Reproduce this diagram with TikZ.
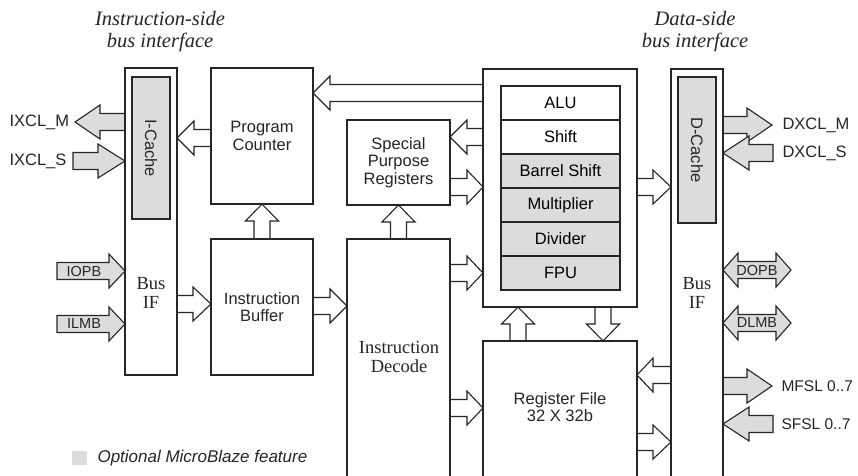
\documentclass[tikz,border=0pt]{standalone}
\usepackage{fontspec}
\setmainfont{Liberation Serif}
\setsansfont{Liberation Sans}
\usetikzlibrary{calc}
\definecolor{gl}{RGB}{220,220,220}
\definecolor{ln}{RGB}{38,38,38}
\tikzset{
  box/.style={draw=ln, line width=1.4pt, fill=white, inner sep=0pt, outer sep=0pt, anchor=north west},
  ghost/.style={inner sep=0pt, outer sep=0pt, anchor=north west},
  wall/.style={draw=ln, line width=1.4pt},
  cell/.style={box, minimum width=119pt, minimum height=34pt, font=\sffamily\fontsize{16.5}{17.5}\selectfont},
  arr/.style={draw=ln, line width=1.1pt, line join=miter},
  sf/.style={font=\sffamily\fontsize{16.5}{17.5}\selectfont, align=center, text=ln},
  sfs/.style={font=\sffamily\fontsize{14.5}{15}\selectfont, text=ln},
  rm/.style={font=\rmfamily\fontsize{18.5}{19.5}\selectfont, align=center, text=ln},
  ttl/.style={font=\rmfamily\itshape\fontsize{20.5}{22}\selectfont, align=center, text=ln},
}
% horizontal block arrows: #1 fill, #2 tail, #3 tip, #4 head length, #5 closing
\newcommand\rarr[5]{\filldraw[arr,fill=#1] let \p1=#2,\p2=#3 in
  (\x1,\y1+8.5pt) -| (\x2-#4pt,\y1+17pt) -- (\x2,\y1) -- (\x2-#4pt,\y1-17pt) |- (\x1,\y1-8.5pt) #5;}
\newcommand\larr[5]{\filldraw[arr,fill=#1] let \p1=#2,\p2=#3 in
  (\x1,\y1+8.5pt) -| (\x2+#4pt,\y1+17pt) -- (\x2,\y1) -- (\x2+#4pt,\y1-17pt) |- (\x1,\y1-8.5pt) #5;}
% vertical block arrows: #1 tail, #2 tip, #3 head length
\newcommand\uarr[3]{\filldraw[arr,fill=white] let \p1=#1,\p2=#2 in
  (\x1-8pt,\y1) |- (\x1-16.5pt,\y2-#3pt) -- (\x1,\y2) -- (\x1+16.5pt,\y2-#3pt) -| (\x1+8pt,\y1);}
\newcommand\darr[3]{\filldraw[arr,fill=white] let \p1=#1,\p2=#2 in
  (\x1-8pt,\y1) |- (\x1-16.5pt,\y2+#3pt) -- (\x1,\y2) -- (\x1+16.5pt,\y2+#3pt) -| (\x1+8pt,\y1);}
% double block arrow: #1 left tip, #2 right tip, #3 head length
\newcommand\dblarr[3]{\filldraw[arr,fill=gl] let \p1=#1,\p2=#2 in
  (\x1,\y1) -- (\x1+#3pt,\y1+17pt) -- (\x1+#3pt,\y1+8.5pt) -- (\x2-#3pt,\y1+8.5pt) -- (\x2-#3pt,\y1+17pt)
  -- (\x2,\y1) -- (\x2-#3pt,\y1-17pt) -- (\x2-#3pt,\y1-8.5pt) -- (\x1+#3pt,\y1-8.5pt) -- (\x1+#3pt,\y1-17pt) -- cycle;}

\begin{document}
\begin{tikzpicture}[x=1pt,y=-1pt]
\useasboundingbox (0,0) rectangle (858,475);
\fill[white] (0,0) rectangle (858,475);

% ---------- geometry nodes (no drawing yet) ----------
\node[ghost, minimum width=52pt, minimum height=307pt] (busL) at (125,68) {};
\node[ghost, minimum width=102pt, minimum height=136pt] (pc) at (211,68) {};
\node[ghost, minimum width=102pt, minimum height=136pt] (ib) at (211,239) {};
\node[ghost, minimum width=103pt, minimum height=85pt] (spr) at (347,120) {};
\node[ghost, minimum width=103pt, minimum height=240pt] (id) at (347,239) {};
\node[ghost, minimum width=154pt, minimum height=238pt] (alu) at (483,69) {};
\node[ghost, minimum width=154pt, minimum height=138pt] (rf) at (483,341) {};
\node[ghost, minimum width=52pt, minimum height=410pt] (busR) at (671,69) {};

% free ends of external arrows
\coordinate (ixmT) at (75,122);
\coordinate (ixsT) at (73,161);
\coordinate (iopbT) at (57,271);
\coordinate (ilmbT) at (57,324);
\coordinate (dxmT) at (772,125);
\coordinate (dxsT) at (773,153);
\coordinate (dopbT) at (791,270);
\coordinate (dlmbT) at (791,323);
\coordinate (mfslT) at (772,386);
\coordinate (sfslT) at (773,424);

% ---------- internal arrows ----------
\larr{white}{(alu.west |- 0,93)}{(pc.east |- 0,93)}{17}{}
\larr{white}{(pc.west |- 0,138)}{(busL.east |- 0,138)}{17}{}
\rarr{white}{(busL.east |- 0,304)}{(ib.west |- 0,304)}{18}{}
\rarr{white}{(ib.east |- 0,306)}{(id.west |- 0,306)}{17}{}
\larr{white}{(alu.west |- 0,137)}{(spr.east |- 0,137)}{17}{}
\rarr{white}{(spr.east |- 0,187)}{(alu.west |- 0,187)}{16}{}
\rarr{white}{(id.east |- 0,273)}{(alu.west |- 0,273)}{16}{}
\rarr{white}{(id.east |- 0,408)}{(rf.west |- 0,408)}{16}{}
\rarr{white}{(alu.east |- 0,187)}{(busR.west |- 0,187)}{18}{}
\larr{white}{(busR.west |- 0,375)}{(rf.east |- 0,375)}{16}{}
\rarr{white}{(rf.east |- 0,442)}{(busR.west |- 0,442)}{18}{}
\uarr{(ib.north)}{(pc.south)}{17}
\uarr{(id.north)}{(spr.south)}{17}
\uarr{(rf.north -| 518,0)}{(alu.south -| 518,0)}{17}
\darr{(alu.south -| 603,0)}{(rf.north -| 603,0)}{17}

% ---------- external arrows ----------
\larr{gl}{(busL.west |- ixmT)}{(ixmT)}{25}{}
\rarr{gl}{(ixsT)}{(busL.west |- ixsT)}{27}{-- cycle}
\rarr{gl}{(iopbT)}{(busL.west |- iopbT)}{16}{-- cycle}
\rarr{gl}{(ilmbT)}{(busL.west |- ilmbT)}{16}{-- cycle}
\rarr{gl}{(busR.east |- dxmT)}{(dxmT)}{25}{}
\larr{gl}{(dxsT)}{(busR.east |- dxsT)}{26}{-- cycle}
\dblarr{(busR.east |- dopbT)}{(dopbT)}{15}
\dblarr{(busR.east |- dlmbT)}{(dlmbT)}{15}
\rarr{gl}{(busR.east |- mfslT)}{(mfslT)}{25}{}
\larr{gl}{(sfslT)}{(busR.east |- sfslT)}{26}{-- cycle}

% ---------- boxes ----------
\draw[wall] (busL.north west) rectangle (busL.south east);
\node[box, fill=gl, minimum width=38pt, minimum height=142pt] (icache) at (132,77) {};
\node[sf, rotate=-90] at (icache.center) {I-Cache};
\node[rm] (busLt) at (151,293) {Bus\\IF};

\draw[wall] (pc.north west) rectangle (pc.south east);
\node[sf] at (pc.center) {Program\\Counter};
\draw[wall] (ib.north west) rectangle (ib.south east);
\node[sf] at (ib.center) {Instruction\\Buffer};
\draw[wall] (spr.north west) rectangle (spr.south east);
\node[sf] at (spr.center) {Special\\Purpose\\Registers};

\draw[wall] (id.south west) |- (id.north) -| (id.south east);
\node[rm] (idt) at (399,357) {Instruction\\Decode};

\draw[wall] (alu.north west) rectangle (alu.south east);
\node[cell] (c1) at (501,86) {ALU};
\node[cell] (c2) at (501,120) {Shift};
\node[cell, fill=gl] (c3) at (501,154) {Barrel Shift};
\node[cell, fill=gl] (c4) at (501,188) {Multiplier};
\node[cell, fill=gl] (c5) at (501,222) {Divider};
\node[cell, fill=gl] (c6) at (501,256) {FPU};

\draw[wall] (rf.south west) |- (rf.north) -| (rf.south east);
\node[sf] (rft) at (560,407) {Register File\\32 X 32b};

\draw[wall] (busR.south west) |- (busR.north) -| (busR.south east);
\node[box, fill=gl, minimum width=38pt, minimum height=146pt] (dcache) at (678,77) {};
\node[sf, rotate=-90] at (dcache.center) {D-Cache};
\node[rm] (busRt) at (697,293) {Bus\\IF};

% ---------- labels ----------
\node[sf, anchor=west] (lixm) at (6,122) {IXCL\_M};
\node[sf, anchor=west] (lixs) at (6,161) {IXCL\_S};
\node[sfs] (liopb) at (84,271) {IOPB};
\node[sfs] (lilmb) at (84,324) {ILMB};
\node[sf, anchor=west] (ldxm) at (779,125) {DXCL\_M};
\node[sf, anchor=west] (ldxs) at (779,153) {DXCL\_S};
\node[sfs] (ldopb) at (757,270) {DOPB};
\node[sfs] (ldlmb) at (757,323) {DLMB};
\node[sf, anchor=west, font=\sffamily\fontsize{15.5}{16}\selectfont] (lmfsl) at (778,386) {MFSL 0..7};
\node[sf, anchor=west, font=\sffamily\fontsize{15.5}{16}\selectfont] (lsfsl) at (778,424) {SFSL 0..7};

\node[ttl] (t1) at (160,32) {Instruction-side\\bus interface};
\node[ttl] (t2) at (695,32) {Data-side\\bus interface};

% ---------- legend ----------
\node[ghost, fill=gl, minimum width=15pt, minimum height=14pt] (legsq) at (72,451) {};
\node[anchor=west, font=\sffamily\itshape\fontsize{17}{18}\selectfont, text=ln] (legt) at (94,458) {Optional MicroBlaze feature};
\end{tikzpicture}
\end{document}
